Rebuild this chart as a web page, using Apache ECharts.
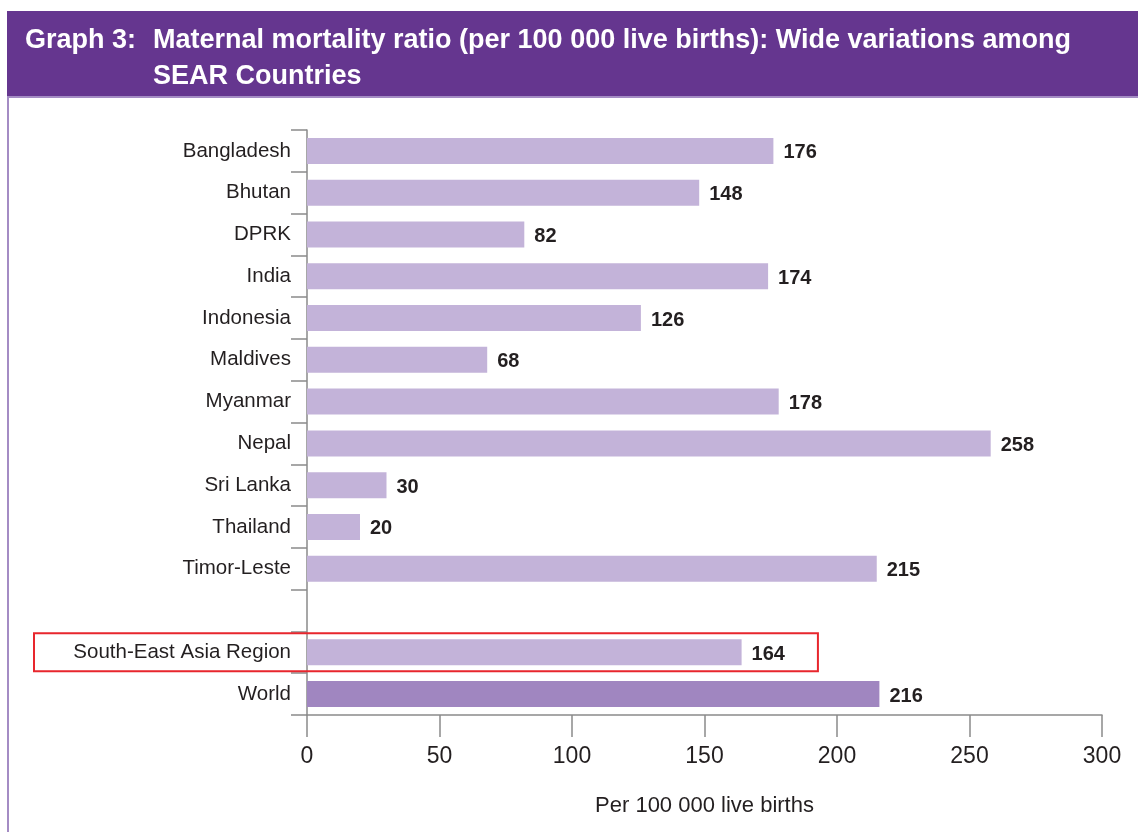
<!DOCTYPE html>
<html>
<head>
<meta charset="utf-8">
<script src="https://cdn.jsdelivr.net/npm/echarts@6/dist/echarts.min.js"></script>
<style>
  html, body { margin: 0; padding: 0; background: #fff; }
  #chart { width: 1138px; height: 832px; }
</style>
</head>
<body>
<div id="chart"></div>
<script>
  // countries top to bottom, blank row separates the aggregates
  const countries = ['Bangladesh', 'Bhutan', 'DPRK', 'India', 'Indonesia', 'Maldives', 'Myanmar',
    'Nepal', 'Sri Lanka', 'Thailand', 'Timor-Leste', '', 'South-East Asia Region', 'World'];
  const mmr = [176, 148, 82, 174, 126, 68, 178, 258, 30, 20, 215, null, 164, 216];
  const xTicks = [0, 50, 100, 150, 200, 250, 300];

  const lightBar = '#c3b3d9';
  const darkBar = '#a086c0';
  const textCol = '#231f20';

  const chart = echarts.init(document.getElementById('chart'));

  const option = {
    animation: false,
    backgroundColor: '#fff',
    title: [
      {
        text: 'Graph 3:',
        left: 20, top: 18,
        textStyle: { color: '#fff', fontSize: 27, fontWeight: 'bold', fontFamily: 'Liberation Sans', lineHeight: 36 }
      },
      {
        text: 'Maternal mortality ratio (per 100 000 live births): Wide variations among\nSEAR Countries',
        left: 148, top: 18,
        textStyle: { color: '#fff', fontSize: 27, fontWeight: 'bold', fontFamily: 'Liberation Sans', lineHeight: 36 }
      }
    ],
    grid: { left: 307, right: 36, top: 130, bottom: 117, containLabel: false },
    xAxis: {
      type: 'value',
      min: xTicks[0],
      max: xTicks[xTicks.length - 1],
      interval: 50,
      name: 'Per 100 000 live births',
      nameLocation: 'middle',
      nameGap: 80,
      nameTextStyle: { color: textCol, fontSize: 22, fontFamily: 'Liberation Sans' },
      axisLine: { show: true, lineStyle: { color: '#8a8a8a', width: 1.5 } },
      axisTick: { show: true, length: 22, lineStyle: { color: '#8a8a8a', width: 1.5 } },
      axisLabel: { color: textCol, fontSize: 23, margin: 30, fontFamily: 'Liberation Sans' },
      splitLine: { show: false }
    },
    yAxis: {
      type: 'category',
      inverse: true,
      data: countries,
      axisLine: { show: true, lineStyle: { color: '#8a8a8a', width: 1.5 } },
      axisTick: { show: true, length: 16, alignWithLabel: false, lineStyle: { color: '#8a8a8a', width: 1.5 } },
      axisLabel: { color: textCol, fontSize: 20.5, margin: 16, fontFamily: 'Liberation Sans' }
    },
    series: [{
      type: 'bar',
      barWidth: 26,
      data: mmr.map((v, i) => ({
        value: v === null ? '-' : v,
        itemStyle: { color: countries[i] === 'World' ? darkBar : lightBar }
      })),
      label: {
        show: true,
        position: 'right',
        distance: 10,
        offset: [0, 2],
        color: textCol,
        fontSize: 20,
        fontWeight: 'bold',
        fontFamily: 'Liberation Sans'
      }
    }]
  };
  chart.setOption(option);

  // header band, frame and the red highlight box around the region row
  const rowY = chart.convertToPixel({ yAxisIndex: 0 }, 'South-East Asia Region');
  const boxRight = chart.convertToPixel({ xAxisIndex: 0 }, 192.8);
  chart.setOption({
    graphic: [
      { type: 'rect', z: -1, shape: { x: 7, y: 11, width: 1131, height: 86 }, style: { fill: '#65368f' } },
      { type: 'line', shape: { x1: 7, y1: 97, x2: 1138, y2: 97 }, style: { stroke: '#a48cc4', lineWidth: 2 } },
      { type: 'line', shape: { x1: 8, y1: 97, x2: 8, y2: 832 }, style: { stroke: '#a48cc4', lineWidth: 2 } },
      { type: 'rect', z: 10, shape: { x: 34, y: rowY - 19, width: boxRight - 34, height: 38 },
        style: { fill: 'none', stroke: '#e8262d', lineWidth: 2 } }
    ]
  });

  window.addEventListener('resize', function () {
    chart.resize();
  });
</script>
</body>
</html>
